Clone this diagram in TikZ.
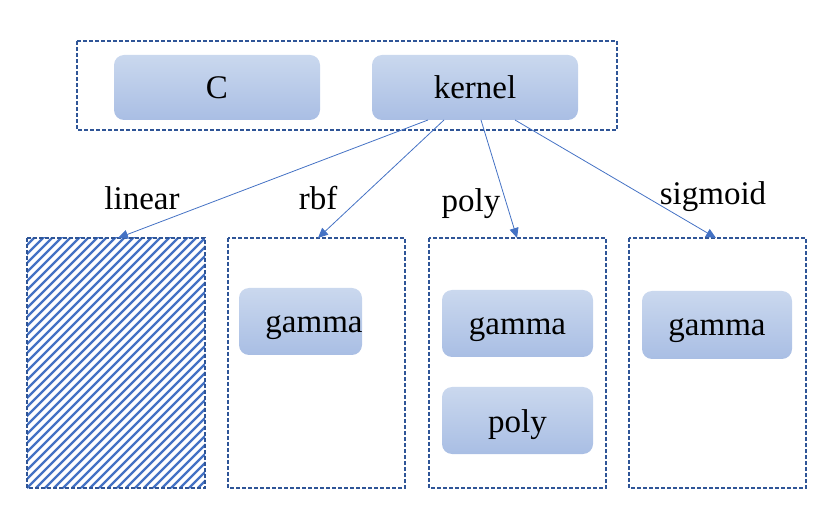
\documentclass[tikz,border=0pt]{standalone}
\usepackage{fontspec}
\setmainfont{Liberation Serif}
\usetikzlibrary{arrows.meta}
\definecolor{dblue}{HTML}{2F5597}
\definecolor{mblue}{HTML}{4472C4}
\definecolor{ltop}{HTML}{CAD8EE}
\definecolor{lbot}{HTML}{A9BEE4}
\tikzset{
  grp/.style={draw=dblue, line width=1.5pt, dash pattern=on 4pt off 2pt},
  param/.style={rounded corners=10pt, top color=ltop, bottom color=lbot, draw=none},
  conn/.style={draw=mblue, line width=0.8pt, -{Triangle[length=10pt,width=9pt]}},
  lbl/.style={font=\fontsize{33}{35}\selectfont, inner sep=0pt, anchor=base},
}
\begin{document}
\begin{tikzpicture}[x=1pt,y=-1pt]
\useasboundingbox (0,0) rectangle (830,526);
% top group
\draw[grp] (77,41) rectangle (617,130);
\path[param] (114,55) rectangle (320,120);
\node[lbl] (C) at (217,99) {C};
\path[param] (372,55) rectangle (578,120);
\node[lbl] (kernel) at (475,99) {kernel};
\coordinate (k1) at (428,120);
\coordinate (k2) at (444,120);
\coordinate (k3) at (481,120);
\coordinate (k4) at (515,120);
% bottom boxes
\begin{scope}
\clip (27,238) rectangle (205,488);
\foreach \i in {-40,...,60} {
  \draw[mblue, line width=2.4pt] (27+\i*9,488) -- ++(260,-260);
}
\end{scope}
\draw[grp] (27,238) rectangle (205,488);
\draw[grp] (228,238) rectangle (405,488);
\draw[grp] (429,238) rectangle (606,488);
\draw[grp] (629,238) rectangle (806,488);
\coordinate (t1) at (118,238);
\coordinate (t2) at (318,238);
\coordinate (t3) at (517,238);
\coordinate (t4) at (716,238);
% params
\path[param] (239,288) rectangle (362,355);
\node[lbl] (g2) at (314,333) {gamma};
\path[param] (442,290) rectangle (593,357);
\node[lbl] (g3) at (517.5,335) {gamma};
\path[param] (442,387) rectangle (593,454);
\node[lbl] (p3) at (517.5,432) {poly};
\path[param] (642,291) rectangle (792,359);
\node[lbl] (g4) at (717,336) {gamma};
% connectors
\draw[conn] (k1) -- (t1);
\draw[conn] (k2) -- (t2);
\draw[conn] (k3) -- (t3);
\draw[conn] (k4) -- (t4);
% labels
\node[lbl] (l1) at (142,210) {linear};
\node[lbl] (l2) at (318,210) {rbf};
\node[lbl] (l3) at (471,212) {poly};
\node[lbl] (l4) at (713,205) {sigmoid};
\end{tikzpicture}
\end{document}
